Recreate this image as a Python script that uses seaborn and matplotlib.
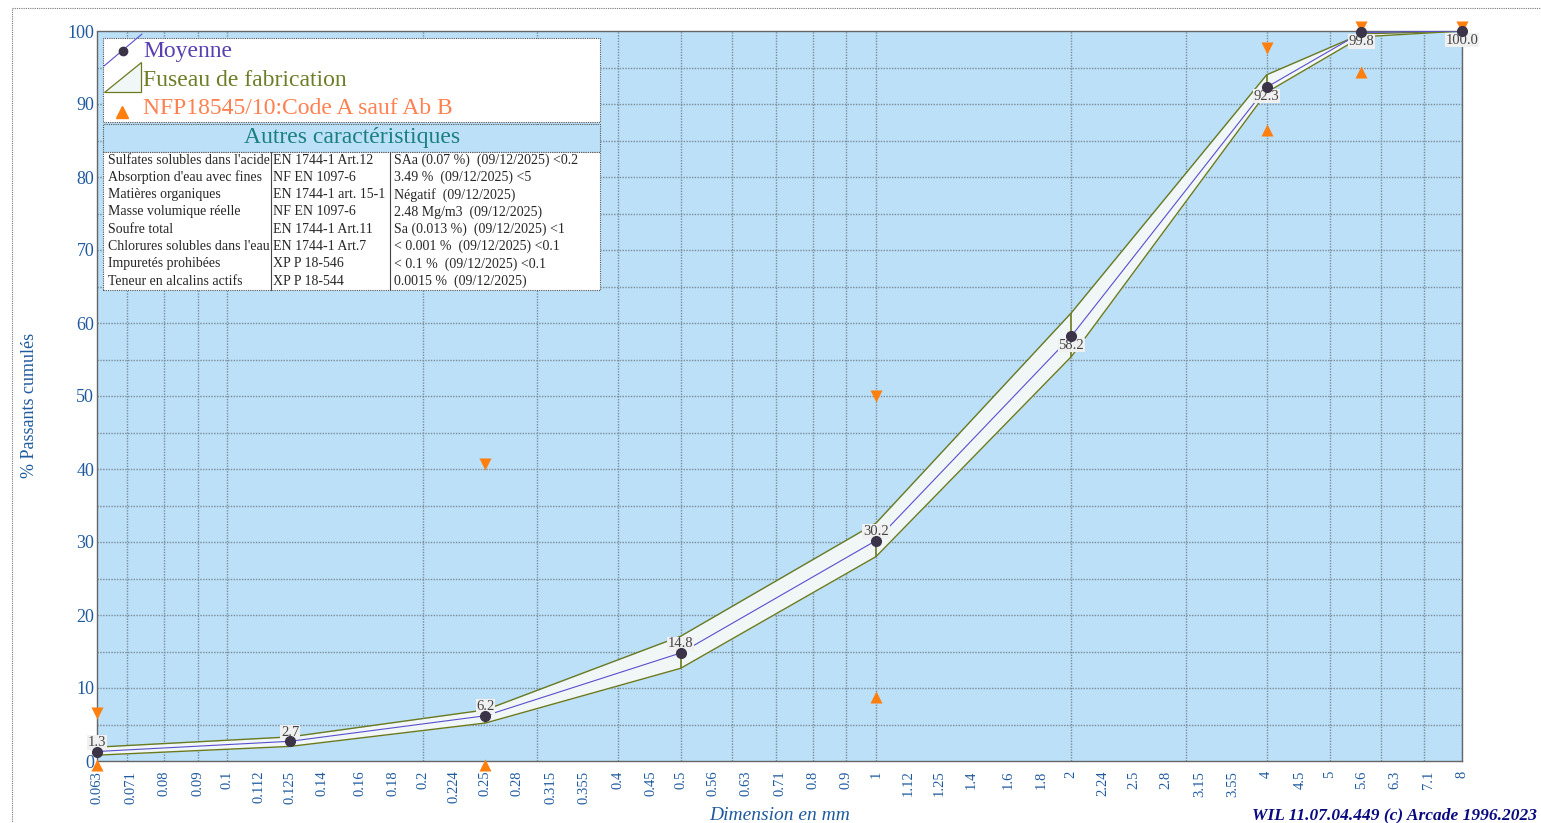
"""
Courbe granulométrique : moyenne, fuseau de fabrication et limites NF P18-545.
"""

import pandas as pd
import seaborn as sns
import matplotlib.pyplot as plt
from matplotlib.patches import Rectangle, Polygon
from matplotlib.lines import Line2D
from matplotlib.ticker import FixedLocator, NullFormatter

# Tamis (mm) et passants cumulés (%)
sieves = [0.063, 0.125, 0.25, 0.5, 1, 2, 4, 5.6, 8]
moyenne = [1.3, 2.7, 6.2, 14.8, 30.2, 58.2, 92.3, 99.8, 100.0]
fuseau_haut = [1.9, 3.3, 7.0, 17.1, 32.6, 61.4, 94.0, 99.6, 100.0]
fuseau_bas = [0.8, 2.0, 5.2, 12.7, 28.0, 55.4, 91.6, 99.2, 100.0]

# petits traits verticaux du fuseau
seg_x = [0.25, 0.5, 1, 2, 4]
seg_lo = [5.2, 12.7, 28.0, 55.4, 92.3]
seg_hi = [6.2, 14.8, 30.2, 61.4, 94.0]

# Limites de la norme NFP18545/10
spec_max_x = [0.063, 0.25, 1, 4, 5.6, 8]
spec_max = [6.6, 40.7, 50.0, 97.7, 100.6, 100.6]
spec_min_x = [0.063, 0.25, 1, 4, 5.6]
spec_min = [-0.5, -0.5, 8.8, 86.4, 94.4]

tick_values = [0.063, 0.071, 0.08, 0.09, 0.1, 0.112, 0.125, 0.14, 0.16, 0.18,
               0.2, 0.224, 0.25, 0.28, 0.315, 0.355, 0.4, 0.45, 0.5, 0.56,
               0.63, 0.71, 0.8, 0.9, 1, 1.12, 1.25, 1.4, 1.6, 1.8, 2, 2.24,
               2.5, 2.8, 3.15, 3.55, 4, 4.5, 5, 5.6, 6.3, 7.1, 8]
tick_labels = [f"{v:g}" for v in tick_values]
grid_values = [0.07, 0.08, 0.09, 0.1, 0.2, 0.3, 0.4, 0.5, 0.6, 0.7, 0.8, 0.9,
               1, 2, 3, 4, 5, 6, 7, 8]

# Autres caractéristiques
carac_noms = ["Sulfates solubles dans l'acide", "Absorption d'eau avec fines",
              "Matières organiques", "Masse volumique réelle", "Soufre total",
              "Chlorures solubles dans l'eau", "Impuretés prohibées",
              "Teneur en alcalins actifs"]
carac_normes = ["EN 1744-1 Art.12", "NF EN 1097-6", "EN 1744-1 art. 15-1",
                "NF EN 1097-6", "EN 1744-1 Art.11", "EN 1744-1 Art.7",
                "XP P 18-546", "XP P 18-544"]
carac_valeurs = ["SAa (0.07 %)  (09/12/2025) <0.2", "3.49 %  (09/12/2025) <5",
                 "Négatif  (09/12/2025)", "2.48 Mg/m3  (09/12/2025)",
                 "Sa (0.013 %)  (09/12/2025) <1", "< 0.001 %  (09/12/2025) <0.1",
                 "< 0.1 %  (09/12/2025) <0.1", "0.0015 %  (09/12/2025)"]

BLUE_TXT = '#1f5a9e'
BG = '#bbe0f8'
OLIVE = '#6b7a1f'
PURPLE = '#5a4fcf'
ORANGE = '#ff7f0e'
W, H = 1541, 823

sns.set_style('white')
plt.rcParams['font.family'] = ['Liberation Serif', 'DejaVu Serif']

df = pd.DataFrame({'x': sieves, 'moy': moyenne, 'haut': fuseau_haut, 'bas': fuseau_bas})

fig = plt.figure(figsize=(W / 100, H / 100), dpi=100)
ax = fig.add_axes([97 / W, 1 - 761 / H, 1365 / W, 730 / H])
ax.set_facecolor(BG)

# Fuseau
ax.fill_between(df['x'], df['bas'], df['haut'], color='#f1f6f6', zorder=2, lw=0)
sns.lineplot(data=df, x='x', y='haut', ax=ax, color=OLIVE, lw=1, zorder=3)
sns.lineplot(data=df, x='x', y='bas', ax=ax, color=OLIVE, lw=1, zorder=3)
ax.vlines(seg_x, seg_lo, seg_hi, color=OLIVE, lw=1.2, zorder=3)

# Moyenne
sns.lineplot(data=df, x='x', y='moy', ax=ax, color=PURPLE, lw=0.8, zorder=4)
ax.plot(df['x'], df['moy'], 'o', color='#3b3347', ms=7, zorder=9, clip_on=False)

# Limites
sns.scatterplot(x=spec_max_x, y=spec_max, ax=ax, marker='v', color=ORANGE,
                s=75, linewidth=0, zorder=7, clip_on=False)
sns.scatterplot(x=spec_min_x, y=spec_min, ax=ax, marker='^', color=ORANGE,
                s=75, linewidth=0, zorder=7, clip_on=False)

# Etiquettes des valeurs
for x, v in zip(sieves, moyenne):
    dy = 6.5 if v < 50 else -6.5
    ax.annotate(f"{v:.1f}", (x, v), xytext=(0, dy), textcoords='offset points',
                ha='center', va='center', fontsize=10.5, color='#444444', zorder=8,
                bbox=dict(boxstyle='square,pad=0.05', fc='#f0f0f0', ec='none'),
                annotation_clip=False)

ax.set_xscale('log')
ax.set_xlim(0.063, 8)
ax.set_ylim(0, 100)
ax.xaxis.set_major_locator(FixedLocator(tick_values))
ax.xaxis.set_major_formatter(plt.FixedFormatter(tick_labels))
ax.xaxis.set_minor_locator(FixedLocator(grid_values))
ax.xaxis.set_minor_formatter(NullFormatter())
ax.yaxis.set_major_locator(FixedLocator(range(0, 101, 10)))
ax.yaxis.set_minor_locator(FixedLocator(range(5, 100, 10)))
ax.tick_params(axis='x', which='major', rotation=90, labelsize=10.5,
               labelcolor=BLUE_TXT, length=5, color='#777777', pad=2)
ax.tick_params(axis='x', which='minor', length=0)
ax.tick_params(axis='y', which='both', length=0, labelsize=13, labelcolor=BLUE_TXT, pad=2)
ax.grid(False)
for v in grid_values:
    ax.axvline(v, color='#7a8d99', lw=1, ls=(0, (1, 1)), zorder=1)
for v in range(5, 100, 5):
    ax.axhline(v, color='#7a8d99', lw=1, ls=(0, (1, 1)), zorder=1)
for sp in ax.spines.values():
    sp.set_color('#666666')
    sp.set_linestyle((0, (1, 1)))
    sp.set_linewidth(1)
ax.set_xlabel('')
ax.set_ylabel('')


def fx(x):
    return x / W


def fy(y):
    return 1 - y / H


def box(x0, y0, x1, y1, fc):
    fig.patches.append(Rectangle((fx(x0), fy(y1)), (x1 - x0) / W, (y1 - y0) / H,
                                 transform=fig.transFigure, fc=fc, ec='#555555',
                                 lw=0.8, ls=(0, (1, 1)), zorder=5))


# Cadre extérieur
fig.patches.append(Rectangle((fx(12), fy(900)), 2000 / W, 892 / H, transform=fig.transFigure,
                             fill=False, ec='#777777', lw=0.8, ls=(0, (1, 1)), zorder=1))

# Légende
box(103, 38, 600, 122, 'white')
fig.lines.append(Line2D([fx(104), fx(142)], [fy(66), fy(34)], transform=fig.transFigure,
                        color=PURPLE, lw=0.8, zorder=6))
fig.lines.append(Line2D([fx(123)], [fy(51)], transform=fig.transFigure, marker='o',
                        color='#3b3347', ms=6, zorder=6))
fig.text(fx(143), fy(52), 'Moyenne', fontsize=17, color='#5a3fb0', va='center', zorder=6)
fig.patches.append(Polygon([(fx(104), fy(92)), (fx(141), fy(92)), (fx(141), fy(62))],
                           closed=True, transform=fig.transFigure, fc='#f1f6f6',
                           ec=OLIVE, lw=0.9, zorder=6))
fig.text(fx(143), fy(80), 'Fuseau de fabrication', fontsize=17, color='#6b7d26',
         va='center', zorder=6)
fig.lines.append(Line2D([fx(122)], [fy(112)], transform=fig.transFigure, marker='^',
                        color=ORANGE, ms=8, lw=0, zorder=6))
fig.text(fx(143), fy(108), 'NFP18545/10:Code A sauf Ab B', fontsize=17, color='#ff8050',
         va='center', zorder=6)

# Tableau des caractéristiques
box(103, 124, 600, 152, BG)
fig.text(fx(352), fy(138), 'Autres caractéristiques', fontsize=17, color='#1a7f7f',
         ha='center', va='center', zorder=6)
box(103, 152, 600, 290, 'white')
for cx in (271, 390):
    fig.lines.append(Line2D([fx(cx), fx(cx)], [fy(152), fy(290)], transform=fig.transFigure,
                            color='#444444', lw=0.8, zorder=6))
for i, (n, s, v) in enumerate(zip(carac_noms, carac_normes, carac_valeurs)):
    y = fy(160 + i * 17.3)
    fig.text(fx(108), y, n, fontsize=10, va='center', zorder=6)
    fig.text(fx(273), y, s, fontsize=10, va='center', zorder=6)
    fig.text(fx(394), y, v, fontsize=10, va='center', zorder=6)

# Titres des axes
fig.text(fx(30), fy(405), '% Passants cumulés', rotation=90, fontsize=13,
         color=BLUE_TXT, ha='center', va='center')
fig.text(fx(780), fy(815), 'Dimension en mm', fontsize=14, style='italic',
         color=BLUE_TXT, ha='center', va='center')
fig.text(fx(1252), fy(815), 'WIL 11.07.04.449 (c) Arcade 1996.2023', fontsize=12.5,
         style='italic', weight='bold', color='#0a0a80', ha='left', va='center')

fig.savefig('out.png', dpi=100)
